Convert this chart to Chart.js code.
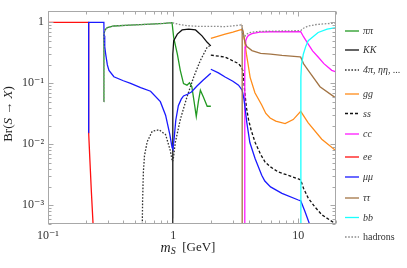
<!DOCTYPE html>
<html><head><meta charset="utf-8">
<script src="https://cdn.jsdelivr.net/npm/chart.js@4/dist/chart.umd.min.js"></script>
<style>html,body{margin:0;padding:0;background:#fff;}#wrap{width:407px;height:268px;position:relative;}</style>
</head><body><div id="wrap"><canvas id="c" width="407" height="268"></canvas></div>
<script>
// ---- tick labels ----
const xTickValues = [0.1, 1, 10];
const xTickLabels = ['10\u207B\u00B9', '1', '10'];
const yTickValues = [1e-3, 1e-2, 1e-1, 1];
const yTickLabels = ['10\u207B\u00B3', '10\u207B\u00B2', '10\u207B\u00B9', '1'];

// ---- series (m_S in GeV, branching ratio) ----
const pipiX = [0.2795, 0.2797, 0.285, 0.298, 0.336, 0.45, 0.66, 0.85, 0.98, 1.01, 1.08, 1.14, 1.21, 1.29, 1.35, 1.41, 1.47, 1.53, 1.59, 1.65, 1.74, 1.87, 2.0];
const pipiY = [0.05, 0.64, 0.75, 0.82, 0.87, 0.9, 0.93, 0.96, 0.985, 0.56, 0.30, 0.163, 0.099, 0.093, 0.102, 0.088, 0.05, 0.0287, 0.05, 0.077, 0.06, 0.042, 0.042];

const kkX = [0.991, 0.992, 0.995, 1.01, 1.08, 1.18, 1.33, 1.51, 1.7, 1.87, 2.0];
const kkY = [0.0001, 0.05, 0.3, 0.5, 0.64, 0.75, 0.77, 0.75, 0.6, 0.47, 0.41];

const fourPiX = [0.565, 0.57, 0.578, 0.59, 0.62, 0.68, 0.77, 0.87, 0.95, 0.985, 1.0, 1.04, 1.14, 1.29, 1.46, 1.65, 1.87, 2.0];
const fourPiY = [0.0003, 0.0012, 0.0035, 0.0065, 0.011, 0.0163, 0.0173, 0.0144, 0.0078, 0.0052, 0.0055, 0.0107, 0.0254, 0.06, 0.127, 0.237, 0.39, 0.42];

const ggX = [2.0, 2.6, 3.0, 3.43, 3.56, 3.62, 3.72, 3.85, 4.0, 4.12, 4.5, 5.1, 5.5, 5.95, 6.6, 7.84, 9.1, 10.45, 12.0, 15.4, 20];
const ggY = [0.545, 0.64, 0.69, 0.75, 0.76, 0.68, 0.5, 0.3, 0.185, 0.125, 0.07, 0.044, 0.032, 0.027, 0.024, 0.0218, 0.0254, 0.0346, 0.0225, 0.0121, 0.0078];

const ssX = [2.0, 2.61, 3.33, 3.5, 3.6, 3.66, 3.72, 3.85, 4.0, 4.2, 4.52, 5.0, 5.43, 5.95, 6.93, 8.32, 10.0, 10.45, 11.0, 12.0, 13.5, 15.4, 20];
const ssY = [0.29, 0.268, 0.21, 0.185, 0.163, 0.12, 0.077, 0.04, 0.0255, 0.017, 0.0107, 0.0068, 0.0051, 0.0043, 0.0035, 0.0031, 0.0027, 0.0026, 0.0019, 0.00131, 0.00095, 0.0007, 0.00049];

const ccX = [3.73, 3.735, 3.75, 3.8, 3.88, 4.0, 4.26, 4.91, 6.0, 10.45, 11.0, 12.0, 13.0, 14.4, 16.0, 18.5, 20];
const ccY = [0.0001, 0.2, 0.39, 0.5, 0.56, 0.61, 0.65, 0.69, 0.70, 0.70, 0.58, 0.44, 0.34, 0.27, 0.21, 0.163, 0.154];

const eeX = [0.1, 0.2112, 0.2113, 0.216, 0.222, 0.229, 0.233];
const eeY = [1, 1, 0.0155, 0.0057, 0.0017, 0.0005, 0.0003];

const mumuX = [0.2112, 0.2113, 0.2795, 0.2805, 0.284, 0.289, 0.298, 0.307, 0.336, 0.4, 0.457, 0.55, 0.66, 0.79, 0.87, 0.94, 0.98, 0.995, 1.02, 1.05, 1.1, 1.16, 1.21, 1.3, 1.4, 1.55, 1.74, 2.0,
               2.0, 2.0, 2.3, 2.6, 3.0, 3.33, 3.56, 3.68, 3.77, 3.88, 4.1, 4.52, 5.1, 5.4, 6.0, 7.4, 10.0, 10.45, 11.3, 12.3, 12.8];
const mumuY = [0.0155, 1, 1, 0.6, 0.4, 0.30, 0.2, 0.163, 0.128, 0.11, 0.1, 0.085, 0.074, 0.05, 0.03, 0.0145, 0.0088, 0.0083, 0.013, 0.025, 0.043, 0.055, 0.062, 0.066, 0.072, 0.09, 0.113, 0.146,
               null, 0.17, 0.148, 0.127, 0.108, 0.093, 0.077, 0.055, 0.037, 0.0225, 0.0107, 0.0058, 0.0031, 0.0025, 0.002, 0.00157, 0.00122, 0.00118, 0.00079, 0.00049, 0.0003];

const tautauX = [3.555, 3.556, 3.565, 3.62, 3.7, 3.77, 3.88, 4.26, 5.0, 6.0, 7.4, 10.3, 10.45, 11.0, 12.0, 14.9, 20];
const tautauY = [0.0001, 0.4, 0.8, 0.7, 0.54, 0.45, 0.40, 0.344, 0.31, 0.30, 0.286, 0.27, 0.268, 0.21, 0.163, 0.088, 0.057];

const bbX = [10.45, 10.46, 10.5, 10.6, 10.96, 11.5, 12.0, 14.4, 17.0, 20];
const bbY = [0.0001, 0.05, 0.127, 0.2, 0.30, 0.41, 0.50, 0.68, 0.77, 0.82];

const hadronsX = [0.2795, 0.2797, 0.285, 0.298, 0.336, 0.45, 0.66, 0.98, 1.1, 1.3, 1.55, 2.0, 2.6, 3.0, 3.5, 3.555, 3.57, 3.65, 3.73, 3.8, 4.0, 4.5, 5.0, 10.45, 11.0, 12.0, 14.0, 17.0, 20];
const hadronsY = [0.05, 0.64, 0.75, 0.82, 0.87, 0.9, 0.93, 0.985, 0.93, 0.88, 0.86, 0.86, 0.85, 0.87, 0.91, 0.92, 0.66, 0.6, 0.58, 0.62, 0.67, 0.7, 0.71, 0.73, 0.8, 0.87, 0.92, 0.95, 0.97];

const seriesNames = ['ππ', 'KK', '4π, ηη, ...', 'gg', 'ss', 'cc', 'ee', 'μμ', 'ττ', 'bb', 'hadrons'];

// ---- styling ----
const styles = [
  {color: '#229922', dash: []},
  {color: '#111111', dash: []},
  {color: '#333333', dash: [1.6, 1.6]},
  {color: '#ff8c1a', dash: []},
  {color: '#111111', dash: [3, 2]},
  {color: '#ff1aff', dash: []},
  {color: '#ff1010', dash: []},
  {color: '#1a1aff', dash: []},
  {color: '#a27445', dash: []},
  {color: '#1affff', dash: []},
  {color: '#8c8c8c', dash: [1.6, 1.6]}
];
const allX = [pipiX, kkX, fourPiX, ggX, ssX, ccX, eeX, mumuX, tautauX, bbX, hadronsX];
const allY = [pipiY, kkY, fourPiY, ggY, ssY, ccY, eeY, mumuY, tautauY, bbY, hadronsY];

const datasets = seriesNames.map((name, i) => ({
  label: name,
  data: allX[i].map((x, j) => ({x: x, y: allY[i][j]})),
  borderColor: styles[i].color,
  borderDash: styles[i].dash,
  borderWidth: 1.3,
  pointRadius: 0,
  tension: 0,
  fill: false,
  spanGaps: false,
  order: -i
}));

const SERIF = "'Liberation Serif', 'DejaVu Serif', serif";

function drawRich(ctx, parts, x, y, align) {
  let total = 0;
  parts.forEach(p => { ctx.font = p.font; total += ctx.measureText(p.t).width; });
  let cx = align === 'center' ? x - total / 2 : x;
  parts.forEach(p => {
    ctx.font = p.font;
    ctx.fillText(p.t, cx, y + (p.dy || 0));
    cx += ctx.measureText(p.t).width;
  });
}

const decor = {
  id: 'decor',
  afterDatasetsDraw(chart) {
    const ctx = chart.ctx, a = chart.chartArea, xs = chart.scales.x, ys = chart.scales.y;
    ctx.save();
    ctx.setLineDash([]);
    ctx.strokeStyle = '#a8a8a8';
    ctx.lineWidth = 1;
    const L = Math.round(a.left) + 0.5, R = Math.round(a.right) - 0.5, T = Math.round(a.top) + 0.5, B = Math.round(a.bottom) - 0.5;
    ctx.strokeRect(L, T, R - L, B - T);
    ctx.beginPath();
    [0.1, 1, 10].forEach(d => {
      for (let k = 1; k <= 9; k++) {
        const v = k * d;
        if (v < xs.min - 1e-9 || v > xs.max + 1e-9) continue;
        const px = Math.round(xs.getPixelForValue(v)) + 0.5;
        const len = k === 1 ? 5 : 3;
        ctx.moveTo(px, B); ctx.lineTo(px, B - len);
        ctx.moveTo(px, T); ctx.lineTo(px, T + len);
      }
    });
    [1e-4, 1e-3, 1e-2, 1e-1, 1].forEach(d => {
      for (let k = 1; k <= 9; k++) {
        const v = k * d;
        if (v < ys.min - 1e-12 || v > ys.max + 1e-9) continue;
        const py = Math.round(ys.getPixelForValue(v)) + 0.5;
        const len = k === 1 ? 5 : 3;
        ctx.moveTo(L, py); ctx.lineTo(L + len, py);
        ctx.moveTo(R, py); ctx.lineTo(R - len, py);
      }
    });
    ctx.stroke();
    ctx.restore();
  },
  afterDraw(chart) {
    const ctx = chart.ctx;
    ctx.save();
    ctx.fillStyle = '#222';
    ctx.textBaseline = 'middle';
    // x title
    drawRich(ctx, [
      {t: 'm', font: 'italic 14px ' + SERIF},
      {t: 'S', font: 'italic 10px ' + SERIF, dy: 3},
      {t: '  [GeV]', font: '13px ' + SERIF}
    ], 188, 248, 'center');
    // y title
    ctx.save();
    ctx.translate(9, 114);
    ctx.rotate(-Math.PI / 2);
    drawRich(ctx, [
      {t: 'Br(', font: '13px ' + SERIF},
      {t: 'S', font: 'italic 13px ' + SERIF},
      {t: ' \u2192 ', font: '13px ' + SERIF},
      {t: 'X', font: 'italic 13px ' + SERIF},
      {t: ')', font: '13px ' + SERIF}
    ], 0, 0, 'center');
    ctx.restore();
    // legend
    const ly = [31, 50, 70, 94, 113.5, 134, 157, 177, 198, 217.5, 237];
    seriesNames.forEach((name, i) => {
      ctx.strokeStyle = styles[i].color;
      ctx.setLineDash(styles[i].dash);
      ctx.lineWidth = 1.3;
      ctx.beginPath();
      ctx.moveTo(345, ly[i]); ctx.lineTo(359, ly[i]);
      ctx.stroke();
      ctx.setLineDash([]);
      ctx.fillStyle = '#333';
      const italic = name !== 'hadrons';
      ctx.font = (italic ? 'italic ' : '') + '10px ' + SERIF;
      ctx.fillText(name, 363, ly[i] + 0.5);
    });
    ctx.restore();
  }
};

new Chart(document.getElementById('c'), {
  type: 'line',
  data: {datasets: datasets},
  options: {
    responsive: false,
    animation: false,
    devicePixelRatio: 1,
    layout: {padding: {top: 8, right: 71, left: 0, bottom: 0}},
    plugins: {legend: {display: false}, tooltip: {enabled: false}},
    scales: {
      x: {
        type: 'logarithmic', min: 0.1, max: 20,
        grid: {display: false, drawTicks: false},
        border: {display: false},
        afterBuildTicks: s => { s.ticks = xTickValues.map(v => ({value: v})); },
        afterFit: s => { s.height = 44; },
        ticks: {
          autoSkip: false, maxRotation: 0, padding: 5, color: '#333',
          font: {family: SERIF, size: 12},
          callback: v => { const i = xTickValues.findIndex(t => Math.abs(t - v) < 1e-9 * Math.max(1, v)); return i >= 0 ? xTickLabels[i] : ''; }
        }
      },
      y: {
        type: 'logarithmic', min: 4.93e-4, max: 1.52,
        grid: {display: false, drawTicks: false},
        border: {display: false},
        afterBuildTicks: s => { s.ticks = yTickValues.map(v => ({value: v})); },
        afterFit: s => { s.width = 48; },
        ticks: {
          autoSkip: false, padding: 4, color: '#333',
          font: {family: SERIF, size: 12},
          callback: v => { const i = yTickValues.findIndex(t => Math.abs(t - v) < 1e-6 * t); return i >= 0 ? yTickLabels[i] : ''; }
        }
      }
    }
  },
  plugins: [decor]
});
</script>
</body></html>
